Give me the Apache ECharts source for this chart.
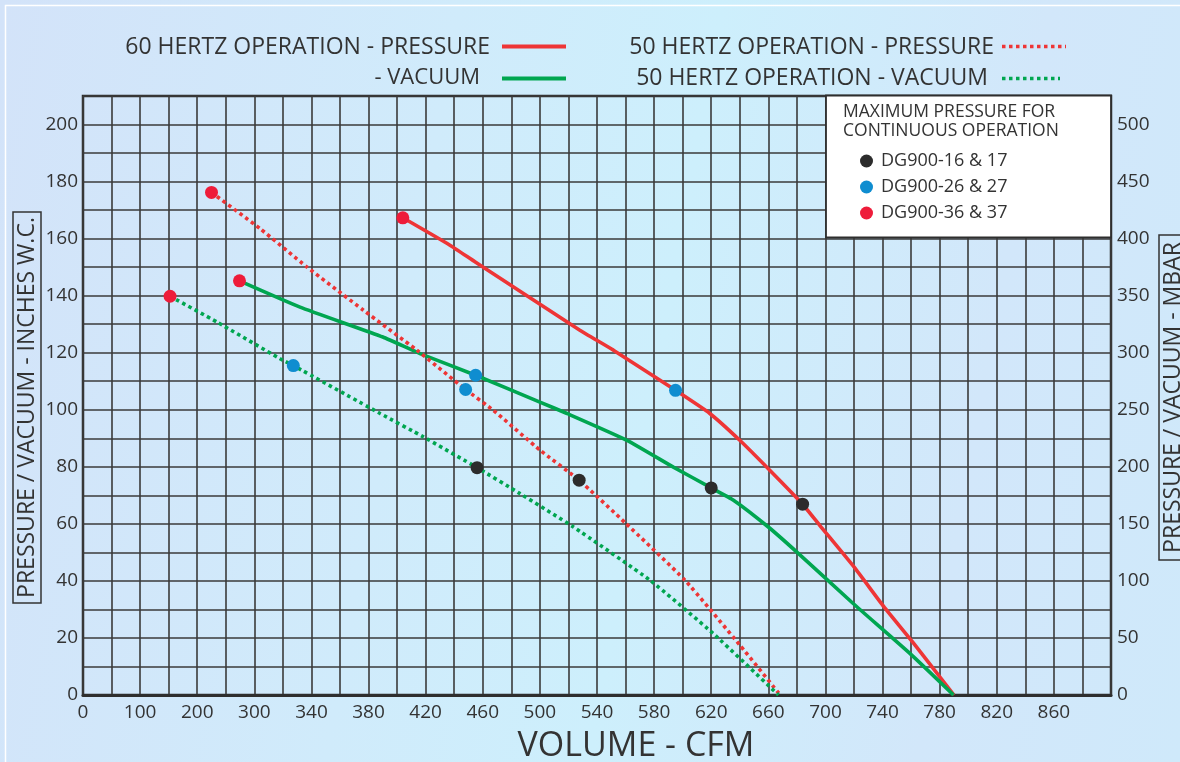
<!DOCTYPE html>
<html>
<head>
<meta charset="utf-8">
<script src="https://cdn.jsdelivr.net/npm/echarts@6/dist/echarts.min.js"></script>
<style>
  html, body { margin: 0; padding: 0; }
  body {
    width: 1180px; height: 762px; overflow: hidden;
    background: linear-gradient(100deg, #d3e3f9 0%, #d0ebfb 35%, #cdeffc 55%, #d2e7fa 80%, #cfe9fa 100%);
  }
  #chart { width: 1180px; height: 762px; }
</style>
</head>
<body>
<div id="chart"></div>
<script>
// ---- Data (CFM, inches W.C.) ----
const xTickLabels = [0, 100, 200, 300, 340, 380, 420, 460, 500, 540, 580, 620, 660, 700, 740, 780, 820, 860];

const hz60Pressure = [[404,167.3],[437,157.7],[455,151.7],[528,127.9],[551.5,120.9],[595,106.8],[619,98.7],[640,89.3],[661,78.8],[684,66.9],[696,59.5],[720,44.9],[741,30.9],[761,18.6],[790,0]];
const hz60Vacuum = [[274,145.2],[332,136.0],[390,125.5],[416,119.7],[455,112.1],[500,102.7],[519,98.7],[561,89.3],[593.5,79.9],[620,72.6],[635.6,68.3],[660,58.9],[680,50.1],[719.6,32.0],[759.3,14.5],[789.7,0]];
const hz50Pressure = [[225,176.2],[304,163.5],[336.7,150.1],[376.4,134.9],[413.8,120.9],[448,107.1],[467.4,99.8],[500.2,85.8],[527.5,75.3],[559.7,60.4],[601.7,40.2],[640.2,17.4],[668.3,0]];
const hz50Vacuum = [[152.4,139.8],[234.2,130.8],[318,117.9],[327.3,115.5],[388.1,98.7],[418.4,90.5],[456,79.7],[486.1,70.6],[523.5,58.9],[577.2,40.2],[621.5,21.5],[667.1,0]];

const dg16Points = [[684,66.9],[620,72.6],[527.5,75.3],[456,79.7]];
const dg26Points = [[595,106.8],[455,112.1],[448,107.1],[327.3,115.5]];
const dg36Points = [[404,167.3],[274,145.2],[225,176.2],[152.4,139.8]];

// The CFM axis is piecewise (100-step to 300, then 40-step); map CFM to tick position
function cfmToPos(c) {
  for (let i = 0; i < xTickLabels.length - 1; i++) {
    const a = xTickLabels[i], b = xTickLabels[i + 1];
    if (c <= b) return i + (c - a) / (b - a);
  }
  const n = xTickLabels.length - 1;
  return n + (c - xTickLabels[n]) / (xTickLabels[n] - xTickLabels[n - 1]);
}
const conv = arr => arr.map(p => [cfmToPos(p[0]), p[1]]);

const RED = '#ee3536', GREEN = '#00a650', DOTRED = '#ee1c3a', BLUE = '#0f8dd0', BLACK = '#2c2c2c';
const FONT = '"Open Sans", "DejaVu Sans", sans-serif';
const TXT = '#333333';

const chart = echarts.init(document.getElementById('chart'), null, { renderer: 'canvas' });

const lineSeries = (name, data, color, dotted) => ({
  name, type: 'line', data: conv(data), showSymbol: false, symbol: 'none', smooth: 0.15,
  lineStyle: { color, width: 3.6, type: dotted ? [3.5, 3.5] : 'solid', cap: 'butt' },
  z: 3, silent: true
});
const dotSeries = (name, data, color) => ({
  name, type: 'scatter', data: conv(data), symbol: 'circle', symbolSize: 13,
  itemStyle: { color, opacity: 1 }, z: 5, silent: true
});

chart.setOption({
  animation: false,
  textStyle: { fontFamily: FONT, color: TXT },
  grid: { left: 83, right: 69, top: 96, bottom: 67, show: true, borderColor: '#2e2e2e', borderWidth: 2.5, backgroundColor: 'transparent' },
  xAxis: {
    type: 'value', min: 0, max: 18, interval: 0.5,
    axisLine: { show: true, lineStyle: { color: '#2e2e2e', width: 3 } },
    axisTick: { show: false },
    splitLine: { show: true, lineStyle: { color: '#3a3a3a', width: 1.6 } },
    axisLabel: {
      interval: 0, margin: 8, fontSize: 19, color: TXT, fontFamily: FONT,
      formatter: v => Number.isInteger(v) && v < xTickLabels.length ? String(xTickLabels[v]) : ''
    }
  },
  yAxis: [
    {
      type: 'value', min: 0, max: 210, interval: 10, position: 'left',
      axisLine: { show: false }, axisTick: { show: false },
      splitLine: { show: true, lineStyle: { color: '#3a3a3a', width: 1.6 } },
      axisLabel: { margin: 5, fontSize: 19, color: TXT, fontFamily: FONT, formatter: v => (v % 20 === 0 && v <= 200) ? String(v) : '' }
    },
    {
      type: 'value', min: 0, max: 525, interval: 50, position: 'right',
      axisLine: { show: false }, axisTick: { show: false }, splitLine: { show: false },
      axisLabel: { margin: 6, fontSize: 19, color: TXT, fontFamily: FONT, formatter: v => v <= 500 ? String(v) : '' }
    }
  ],
  legend: {
    data: ['DG900-16 & 17', 'DG900-26 & 27', 'DG900-36 & 37'],
    orient: 'vertical', left: 855, top: 147, itemGap: 8, itemWidth: 13, itemHeight: 13,
    icon: 'circle', selectedMode: false, z: 20,
    textStyle: { fontSize: 18, color: TXT, fontFamily: FONT, padding: [0, 0, 0, 3] }
  },
  series: [
    lineSeries('60 HERTZ OPERATION - PRESSURE', hz60Pressure, RED, false),
    lineSeries('60 HERTZ OPERATION - VACUUM', hz60Vacuum, GREEN, false),
    lineSeries('50 HERTZ OPERATION - PRESSURE', hz50Pressure, RED, true),
    lineSeries('50 HERTZ OPERATION - VACUUM', hz50Vacuum, GREEN, true),
    dotSeries('DG900-16 & 17', dg16Points, BLACK),
    dotSeries('DG900-26 & 27', dg26Points, BLUE),
    dotSeries('DG900-36 & 37', dg36Points, DOTRED)
  ],
  graphic: [
    { type: 'rect', silent: true, z: -10, shape: { x: 5.5, y: 5.5, width: 1300, height: 1000 }, style: { fill: 'none', stroke: '#ffffff', lineWidth: 1.5 } },
    // top legend
    { type: 'text', x: 490, y: 47, silent: true, style: { text: '60 HERTZ OPERATION - PRESSURE', fontSize: 23, fontFamily: FONT, fill: TXT, align: 'right', verticalAlign: 'middle' } },
    { type: 'line', silent: true, shape: { x1: 502, y1: 46.5, x2: 566, y2: 46.5 }, style: { stroke: RED, lineWidth: 4 } },
    { type: 'text', x: 480, y: 78, silent: true, style: { text: '- VACUUM', fontSize: 22, fontFamily: FONT, fill: TXT, align: 'right', verticalAlign: 'middle' } },
    { type: 'line', silent: true, shape: { x1: 502, y1: 78.5, x2: 566, y2: 78.5 }, style: { stroke: GREEN, lineWidth: 4 } },
    { type: 'text', x: 994, y: 47, silent: true, style: { text: '50 HERTZ OPERATION - PRESSURE', fontSize: 23, fontFamily: FONT, fill: TXT, align: 'right', verticalAlign: 'middle' } },
    { type: 'line', silent: true, shape: { x1: 1002, y1: 46.5, x2: 1066, y2: 46.5 }, style: { stroke: RED, lineWidth: 3.6, lineDash: [3.5, 3.5] } },
    { type: 'text', x: 988, y: 78, silent: true, style: { text: '50 HERTZ OPERATION - VACUUM', fontSize: 23, fontFamily: FONT, fill: TXT, align: 'right', verticalAlign: 'middle' } },
    { type: 'line', silent: true, shape: { x1: 1002, y1: 78.5, x2: 1060, y2: 78.5 }, style: { stroke: GREEN, lineWidth: 3.6, lineDash: [3.5, 3.5] } },
    // max pressure box
    { type: 'rect', silent: true, z: 15, shape: { x: 826, y: 95.5, width: 285, height: 142 }, style: { fill: '#ffffff', stroke: '#2e2e2e', lineWidth: 1.8 } },
    { type: 'text', x: 843, y: 112.5, z: 16, silent: true, style: { text: 'MAXIMUM PRESSURE FOR', fontSize: 17.5, fontFamily: FONT, fill: TXT, align: 'left', verticalAlign: 'middle' } },
    { type: 'text', x: 843, y: 131.5, z: 16, silent: true, style: { text: 'CONTINUOUS OPERATION', fontSize: 17.5, fontFamily: FONT, fill: TXT, align: 'left', verticalAlign: 'middle' } },
    // axis names
    { type: 'text', x: 27, y: 407.5, rotation: Math.PI / 2, silent: true, style: { text: 'PRESSURE / VACUUM - INCHES W.C.', fontSize: 23, fontFamily: FONT, fill: TXT, align: 'center', verticalAlign: 'middle', borderColor: '#333', borderWidth: 1.5, padding: [3, 5, 2, 5], lineHeight: 23 } },
    { type: 'text', x: 1173, y: 397.5, rotation: Math.PI / 2, silent: true, style: { text: 'PRESSURE / VACUUM - MBAR', fontSize: 23, fontFamily: FONT, fill: TXT, align: 'center', verticalAlign: 'middle', borderColor: '#333', borderWidth: 1.5, padding: [3, 7, 2, 7], lineHeight: 23 } },
    { type: 'text', x: 636, y: 746, silent: true, style: { text: 'VOLUME - CFM', fontSize: 34, fontFamily: FONT, fill: TXT, align: 'center', verticalAlign: 'middle' } }
  ]
});
</script>
</body>
</html>
